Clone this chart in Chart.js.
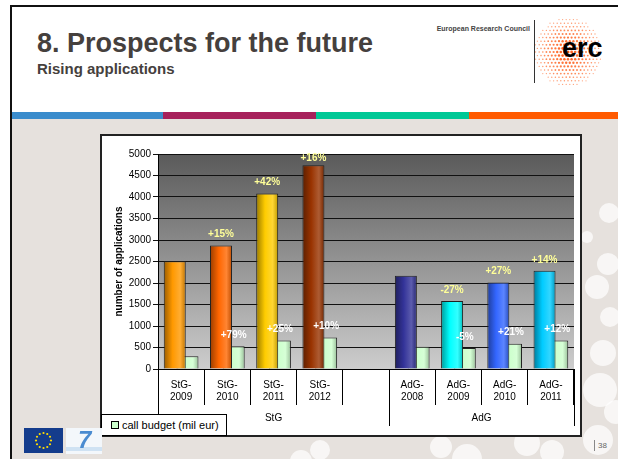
<!DOCTYPE html>
<html lang="en">
<head>
<meta charset="UTF-8">
<title>Rising applications</title>
<script src="https://cdn.jsdelivr.net/npm/chart.js"></script>
<style>
  html, body { margin: 0; padding: 0; }
  body { width: 618px; height: 459px; position: relative; overflow: hidden; background: #fff;
         font-family: "Liberation Sans", Arial, sans-serif; }
  .abs { position: absolute; }
  .dot { position: absolute; border-radius: 50%; background: rgba(255,255,255,0.7); }
  #title { left: 37px; top: 30px; font-size: 27px; line-height: 27px; font-weight: bold; color: #45403d; white-space: nowrap; }
  #subtitle { left: 37px; top: 61px; font-size: 15px; line-height: 15px; font-weight: bold; color: #45403d; white-space: nowrap; }
  #erc-name { left: 400px; top: 25px; width: 130px; text-align: right; font-size: 7px; line-height: 8px; font-weight: bold; color: #444; }
  #erc-text { left: 562px; top: 35px; font-size: 27px; line-height: 27px; font-weight: bold; color: #000; }
  #box { left: 100px; top: 134px; width: 478px; height: 299px; border: 2px solid #222; background: #fff; }
  #legend { left: 101px; top: 414px; width: 126px; height: 22px; box-sizing: border-box; border: 1px solid #000;
            background: #fff; font-size: 11px; line-height: 20px; color: #000; white-space: nowrap; }
  #legend span.sw { display: inline-block; width: 6px; height: 6px; border: 1px solid #000; background: #ccffcc;
                    margin: 0 3px 0 9px; }
  #page { left: 598px; top: 441px; font-size: 8px; color: #666; }
</style>
</head>
<body>

<!-- slide frame -->
<div class="abs" style="left:12px; top:119px; right:0; bottom:0; background:#e6e1dd;"></div>
<div class="abs" style="left:10px; top:5px; width:608px; height:2px; background:#111;"></div>
<div class="abs" style="left:10px; top:5px; width:2px; height:454px; background:#111;"></div>
<div class="abs" style="left:12px; top:112px; width:151px; height:7px; background:#3a8ccc;"></div>
<div class="abs" style="left:163px; top:112px; width:153px; height:7px; background:#a7215b;"></div>
<div class="abs" style="left:316px; top:112px; width:153px; height:7px; background:#00c896;"></div>
<div class="abs" style="left:469px; top:112px; width:149px; height:7px; background:#ff5a00;"></div>

<!-- background bubbles -->
<div class="dot" style="left:599px; top:203px; width:20px; height:20px;"></div>
<div class="dot" style="left:581px; top:231px; width:12px; height:12px;"></div>
<div class="dot" style="left:597px; top:253px; width:22px; height:22px;"></div>
<div class="dot" style="left:585px; top:275px; width:24px; height:24px;"></div>
<div class="dot" style="left:600px; top:307px; width:20px; height:20px;"></div>
<div class="dot" style="left:590px; top:340px; width:26px; height:26px;"></div>
<div class="dot" style="left:583px; top:373px; width:34px; height:34px;"></div>
<div class="dot" style="left:604px; top:400px; width:24px; height:24px;"></div>
<div class="dot" style="left:583px; top:425px; width:30px; height:30px;"></div>
<div class="dot" style="left:514px; top:430px; width:26px; height:26px;"></div>
<div class="dot" style="left:540px; top:440px; width:24px; height:24px;"></div>
<div class="dot" style="left:430px; top:436px; width:22px; height:22px;"></div>
<div class="dot" style="left:452px; top:444px; width:30px; height:30px;"></div>
<div class="dot" style="left:310px; top:440px; width:20px; height:20px;"></div>
<div class="dot" style="left:290px; top:450px; width:22px; height:22px;"></div>

<!-- header -->
<div id="title" class="abs">8. Prospects for the future</div>
<div id="subtitle" class="abs">Rising applications</div>
<div id="erc-name" class="abs">European Research Council</div>
<div class="abs" style="left:534px; top:20px; width:1px; height:63px; background:#333;"></div>
<svg class="abs" style="left:532px; top:16px;" width="72" height="72"><g id="ercDots"></g></svg>
<div id="erc-text" class="abs">erc</div>

<!-- chart -->
<div id="box" class="abs">
  <canvas id="appChart" width="478" height="299"></canvas>
</div>
<div id="legend" class="abs"></div>

<!-- footer -->
<svg class="abs" style="left:24px; top:428px;" width="39" height="25">
  <rect width="39" height="25" fill="#143c8c"/>
  <g fill="#ffdd00" id="stars"></g>
</svg>
<div class="abs" style="left:66px; top:428px; width:36px; height:26px; background:#f3f7fb;"></div>
<div class="abs" style="left:66px; top:447px; width:36px; height:4px; background:#cfe2f3;"></div>
<div class="abs" style="left:78px; top:426px; font-size:24px; font-weight:bold; font-style:italic; color:#4a8bd0;">7</div>
<div class="abs" style="left:594px; top:440px; width:1px; height:11px; background:#888;"></div>
<div id="page" class="abs">38</div>

<script>
// ---- data ----
const categories = [['StG-', '2009'], ['StG-', '2010'], ['StG-', '2011'], ['StG-', '2012'], '',
                    ['AdG-', '2008'], ['AdG-', '2009'], ['AdG-', '2010'], ['AdG-', '2011']];
const applications = [2503, 2873, 4080, 4741, null, 2167, 1584, 2009, 2284];
const budget = [296, 530, 661, 730, null, 517, 490, 590, 661];
const appGrowth = ['', '+15%', '+42%', '+16%', '', '', '-27%', '+27%', '+14%'];
const budgetGrowth = ['', '+79%', '+25%', '+10%', '', '', '-5%', '+21%', '+12%'];
const appColors = ['#ff9900', '#ff6600', '#ffcc00', '#993300', '#999999',
                   '#333399', '#00ffff', '#3366ff', '#00ccff'];
const budgetColor = '#ccffcc';
const budgetLabel = 'call budget (mil eur)';
const groupNames = ['StG', 'AdG'];
const groupSizes = [5, 4];
const yMax = 5000, yStep = 500;

// ---- decorations ----
(function drawLogos() {
  const svgNS = 'http://www.w3.org/2000/svg';
  const dots = document.getElementById('ercDots');
  const R = 34;
  for (let row = -9; row <= 9; row++) {
    for (let col = -10; col <= 10; col++) {
      const x = col * 3.6 + (row % 2 ? 1.8 : 0), y = row * 3.6;
      const d = Math.sqrt(x * x + y * y) / R;
      if (d > 1) continue;
      const c = document.createElementNS(svgNS, 'circle');
      c.setAttribute('cx', 36 + x);
      c.setAttribute('cy', 36 + y);
      c.setAttribute('r', (0.6 + 0.9 * (1 - d)).toFixed(2));
      c.setAttribute('fill', '#ff5a14');
      c.setAttribute('fill-opacity', (0.55 + 0.45 * (1 - d)).toFixed(2));
      dots.appendChild(c);
    }
  }
  const stars = document.getElementById('stars');
  for (let i = 0; i < 12; i++) {
    const a = i * Math.PI / 6;
    const dot = document.createElementNS(svgNS, 'circle');
    dot.setAttribute('cx', 19.5 + 7.5 * Math.cos(a));
    dot.setAttribute('cy', 12.5 + 7.5 * Math.sin(a));
    dot.setAttribute('r', 1.1);
    stars.appendChild(dot);
  }
  document.getElementById('legend').innerHTML = '<span class="sw"></span>' + budgetLabel;
})();

// ---- helpers ----
function shade(hex, f) {
  const n = parseInt(hex.slice(1), 16);
  let r = n >> 16, g = (n >> 8) & 255, b = n & 255;
  if (f <= 1) { r *= f; g *= f; b *= f; }
  else { const t = f - 1; r += (255 - r) * t; g += (255 - g) * t; b += (255 - b) * t; }
  return 'rgb(' + Math.round(r) + ',' + Math.round(g) + ',' + Math.round(b) + ')';
}

function cylinder(ctx, base) {
  const el = ctx.element;
  if (!el || !isFinite(el.x) || !isFinite(el.width)) return base;
  const g = ctx.chart.ctx.createLinearGradient(el.x - el.width / 2, 0, el.x + el.width / 2, 0);
  g.addColorStop(0, shade(base, 0.6));
  g.addColorStop(0.4, base);
  g.addColorStop(0.75, shade(base, 1.2));
  g.addColorStop(1, shade(base, 0.75));
  return g;
}

// grey gradient behind the plot
const plotBackground = {
  id: 'plotBackground',
  beforeDraw(chart) {
    const {ctx, chartArea: a} = chart;
    const g = ctx.createLinearGradient(0, a.top, 0, a.bottom);
    g.addColorStop(0, '#5a5a5a');
    g.addColorStop(1, '#cdcdcd');
    ctx.save();
    ctx.fillStyle = g;
    ctx.fillRect(a.left, a.top, a.right - a.left, a.bottom - a.top);
    ctx.restore();
  }
};

// growth labels above the bars
const growthLabels = {
  id: 'growthLabels',
  afterDatasetsDraw(chart) {
    const ctx = chart.ctx;
    ctx.save();
    ctx.font = 'bold 10px "Liberation Sans", Arial, sans-serif';
    ctx.textAlign = 'center';
    ctx.textBaseline = 'middle';
    [[0, appGrowth, '#ffff99'], [1, budgetGrowth, '#ffffff']].forEach(([di, texts, color]) => {
      const meta = chart.getDatasetMeta(di);
      ctx.fillStyle = color;
      meta.data.forEach((bar, i) => {
        if (!texts[i]) return;
        ctx.fillText(texts[i], bar.x, Math.max(bar.y - 11, chart.chartArea.top + 4));
      });
    });
    ctx.restore();
  }
};

// second level of the category axis (StG / AdG)
const groupAxis = {
  id: 'groupAxis',
  afterDraw(chart) {
    const ctx = chart.ctx, x = chart.scales.x;
    const top = x.top;
    ctx.save();
    ctx.strokeStyle = '#000';
    ctx.lineWidth = 1;
    ctx.fillStyle = '#000';
    ctx.font = '10px "Liberation Sans", Arial, sans-serif';
    ctx.textAlign = 'center';
    ctx.textBaseline = 'middle';
    let start = 0;
    const edges = [-0.5];
    groupSizes.forEach((size, gi) => {
      const end = start + size;
      edges.push(end - 0.5);
      const cx = (x.getPixelForValue(start - 0.5) + x.getPixelForValue(end - 0.5)) / 2;
      ctx.fillText(groupNames[gi], cx, top + 49);
      start = end;
    });
    edges.forEach(v => {
      const px = Math.round(x.getPixelForValue(v)) + 0.5;
      ctx.beginPath();
      ctx.moveTo(px, top);
      ctx.lineTo(px, top + 57);
      ctx.stroke();
    });
    ctx.restore();
  }
};

const chart = new Chart(document.getElementById('appChart'), {
  type: 'bar',
  data: {
    labels: categories,
    datasets: [
      {
        label: 'number of applications',
        data: applications,
        backgroundColor: ctx => cylinder(ctx, appColors[ctx.dataIndex]),
        borderColor: '#222',
        borderWidth: 1,
        categoryPercentage: 0.55,
        barPercentage: 1.73
      },
      {
        label: budgetLabel,
        data: budget,
        backgroundColor: ctx => cylinder(ctx, budgetColor),
        borderColor: '#222',
        borderWidth: 1,
        categoryPercentage: 0.55,
        barPercentage: 1.73
      }
    ]
  },
  options: {
    responsive: false,
    animation: false,
    devicePixelRatio: 1,
    layout: { padding: { top: 18, right: 6, left: 0, bottom: 0 } },
    plugins: {
      legend: { display: false },
      tooltip: { enabled: false }
    },
    scales: {
      x: {
        offset: true,
        grid: { offset: true, drawOnChartArea: false, drawTicks: true, tickLength: 36, color: '#000' },
        border: { display: true, color: '#000' },
        ticks: { autoSkip: false, maxRotation: 0, padding: -26, color: '#000',
                 font: { family: '"Liberation Sans", Arial, sans-serif', size: 10 } },
        afterFit: s => { s.height = 66; }
      },
      y: {
        min: 0,
        max: yMax,
        ticks: { stepSize: yStep, padding: 2, color: '#000', callback: v => String(v),
                 font: { family: '"Liberation Sans", Arial, sans-serif', size: 10 } },
        grid: { color: '#111', tickLength: 5 },
        border: { display: true, color: '#000' },
        title: { display: true, text: 'number of applications', color: '#000',
                 padding: { top: 11, bottom: 0 },
                 font: { family: '"Liberation Sans", Arial, sans-serif', size: 10, weight: 'bold' } },
        afterFit: s => { s.width = 56; }
      }
    }
  },
  plugins: [plotBackground, growthLabels, groupAxis]
});
// second pass so the bar gradients know where each bar sits
chart.update();
</script>
</body>
</html>
